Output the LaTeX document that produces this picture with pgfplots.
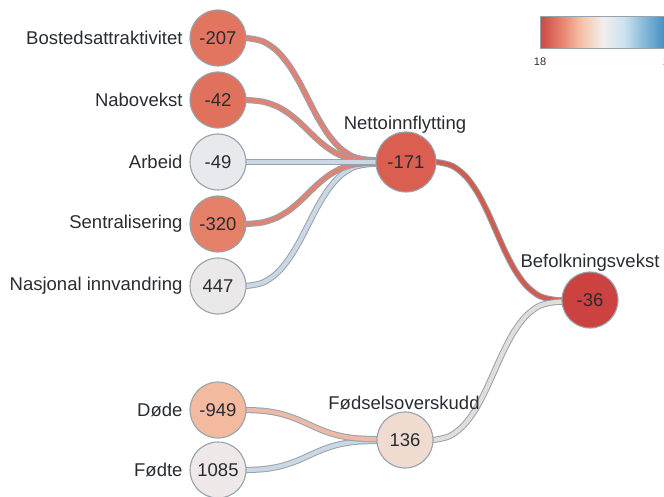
\documentclass[border=0pt]{standalone}
\usepackage{pgfplots}
\usepackage{pgfplotstable}
\pgfplotsset{compat=1.18}
\usepackage{fontspec}
\setmainfont{Liberation Sans}

\definecolor{cBost}{RGB}{226,117,96}
\definecolor{cNabo}{RGB}{224,113,93}
\definecolor{cArb}{RGB}{231,233,237}
\definecolor{cSent}{RGB}{229,128,104}
\definecolor{cNasj}{RGB}{234,232,232}
\definecolor{cNetto}{RGB}{219,95,80}
\definecolor{cBef}{RGB}{204,66,64}
\definecolor{cDode}{RGB}{243,186,160}
\definecolor{cFodte}{RGB}{238,232,232}
\definecolor{cFods}{RGB}{240,219,208}
\definecolor{cEdge}{RGB}{150,162,172}
\definecolor{cText}{RGB}{40,44,50}
\definecolor{lRed}{RGB}{222,132,117}
\definecolor{lBlue}{RGB}{203,215,226}
\definecolor{lNetto}{RGB}{208,92,80}
\definecolor{lFods}{RGB}{226,220,218}
\definecolor{lDode}{RGB}{236,186,166}

% links to Nettoinnflytting
\pgfplotstableread{
x y
230 38
246 38
262.9 41.4
276.8 50.7
288.4 64.4
298.6 80.9
308 99
317.4 117.1
327.6 133.6
339.2 147.3
353.1 156.6
370 160
390 160
}\Lone
\pgfplotstableread{
x y
230 100
246 100
262.9 101.7
276.8 106.3
288.4 113.2
298.6 121.5
308 130.5
317.4 139.5
327.6 147.8
339.2 154.7
353.1 159.3
370 161
390 161
}\Ltwo
\pgfplotstableread{
x y
230 162
390 162
}\Lthree
\pgfplotstableread{
x y
230 224
246 224
262.9 222.3
276.8 217.7
288.4 210.8
298.6 202.5
308 193.5
317.4 184.5
327.6 176.2
339.2 169.3
353.1 164.7
370 163
390 163
}\Lfour
\pgfplotstableread{
x y
230 286
246 286
262.9 282.6
276.8 273.3
288.4 259.6
298.6 243.1
308 225
317.4 206.9
327.6 190.4
339.2 176.7
353.1 167.4
370 164
390 164
}\Lfive
% Nettoinnflytting -> Befolkningsvekst
\pgfplotstableread{
x y
420 162
436 162
452.3 165.9
465.8 176.4
477 191.8
486.9 210.6
496 231
505.1 251.4
515 270.2
526.2 285.6
539.7 296.1
556 300
575 300
}\Lsix
% Fodselsoverskudd -> Befolkningsvekst
\pgfplotstableread{
x y
418 440
433 440
449.7 436.1
463.5 425.6
475.1 410.2
485.2 391.4
494.5 371
503.8 350.6
513.9 331.8
525.5 316.4
539.3 305.9
556 302
575 302
}\Lseven
% Dode -> Fodselsoverskudd
\pgfplotstableread{
x y
230 410
246 410
263.1 410.8
277.2 413
289.1 416.3
299.4 420.2
309 424.5
318.6 428.8
328.9 432.7
340.8 436
354.9 438.2
372 439
390 439
}\Leight
% Fodte -> Fodselsoverskudd
\pgfplotstableread{
x y
230 470
246 470
263.1 469.2
277.2 467
289.1 463.7
299.4 459.8
309 455.5
318.6 451.2
328.9 447.3
340.8 444
354.9 441.8
372 441
390 441
}\Lnine

\begin{document}
\begin{tikzpicture}[lbl/.style={font=\fontsize{18.5}{22}\selectfont, text=cText}]
\begin{axis}[
  at={(0,0)}, anchor=south west,
  scale only axis, width=664pt, height=497pt,
  xmin=0, xmax=664, ymin=0, ymax=497, y dir=reverse,
  hide axis, clip=false,
  link/.style={smooth, line width=6.2pt, color=cEdge},
  linkin/.style={smooth, line width=4.2pt},
  circ/.style={only marks, mark=*, mark size=28, mark options={draw=cEdge, line width=1.1pt, fill=#1},
    point meta=explicit symbolic, nodes near coords,
    nodes near coords align=center,
    every node near coord/.style={anchor=center, font=\fontsize{18.5}{22}\selectfont, text=cText}},
]
% links
\addplot[link] table {\Lone};   \addplot[linkin, lRed] table {\Lone};
\addplot[link] table {\Ltwo};   \addplot[linkin, lRed] table {\Ltwo};
\addplot[link] table {\Lfive};  \addplot[linkin, lBlue] table {\Lfive};
\addplot[link] table {\Lfour};  \addplot[linkin, lRed] table {\Lfour};
\addplot[link] table {\Lthree}; \addplot[linkin, lBlue] table {\Lthree};
\addplot[link] table {\Lsix};   \addplot[linkin, lNetto] table {\Lsix};
\addplot[link] table {\Lseven}; \addplot[linkin, lFods] table {\Lseven};
\addplot[link] table {\Lnine};  \addplot[linkin, lBlue] table {\Lnine};
\addplot[link] table {\Leight}; \addplot[linkin, lDode] table {\Leight};
% nodes with values
\addplot[circ=cBost] coordinates {(218,38) [-207]};
\addplot[circ=cNabo] coordinates {(218,100) [-42]};
\addplot[circ=cArb] coordinates {(218,162) [-49]};
\addplot[circ=cSent] coordinates {(218,224) [-320]};
\addplot[circ=cNasj] coordinates {(218,286) [447]};
\addplot[circ=cDode] coordinates {(218,410) [-949]};
\addplot[circ=cFodte] coordinates {(218,470) [1085]};
\addplot[circ=cNetto, mark size=30] coordinates {(406,162) [-171]};
\addplot[circ=cBef] coordinates {(590,300) [-36]};
\addplot[circ=cFods] coordinates {(405,440) [136]};
% names
\node[lbl, anchor=east] at (186,38) {Bostedsattraktivitet};
\node[lbl, anchor=east] at (186,100) {Nabovekst};
\node[lbl, anchor=east] at (186,162) {Arbeid};
\node[lbl, anchor=east] at (186,224) {Sentralisering};
\node[lbl, anchor=east] at (186,286) {Nasjonal innvandring};
\node[lbl, anchor=east] at (186,410) {Døde};
\node[lbl, anchor=east] at (186,470) {Fødte};
\node[lbl] at (405,125) {Nettoinnflytting};
\node[lbl] at (590,263) {Befolkningsvekst};
\node[lbl] at (404,403) {Fødselsoverskudd};
\end{axis}
% colour scale
\begin{axis}[
  at={(540pt,449pt)}, anchor=south west,
  scale only axis, width=126pt, height=32pt,
  xmin=0, xmax=1, ymin=0, ymax=1, view={0}{90},
  enlargelimits=false, axis on top,
  colormap={rdbu}{rgb255=(202,72,68) rgb255=(230,130,110) rgb255=(247,195,170) rgb255=(242,238,237) rgb255=(205,226,238) rgb255=(130,183,216) rgb255=(65,140,195)},
  point meta min=0, point meta max=1,
  xtick={0,1}, xticklabels={18,1}, ytick=\empty,
  major tick length=0pt,
  axis line style={draw=cEdge, line width=0.8pt},
  xticklabel style={font=\fontsize{11}{13}\selectfont, text=cText, yshift=-6pt},
]
\addplot3[surf, shader=interp, point meta=x] coordinates {
(0,0,0) (0.1667,0,0) (0.3333,0,0) (0.5,0,0) (0.6667,0,0) (0.8333,0,0) (1,0,0)

(0,1,0) (0.1667,1,0) (0.3333,1,0) (0.5,1,0) (0.6667,1,0) (0.8333,1,0) (1,1,0)
};
\end{axis}
\pgfresetboundingbox
\path[use as bounding box] (0,0) rectangle (664pt,497pt);
\end{tikzpicture}
\end{document}
